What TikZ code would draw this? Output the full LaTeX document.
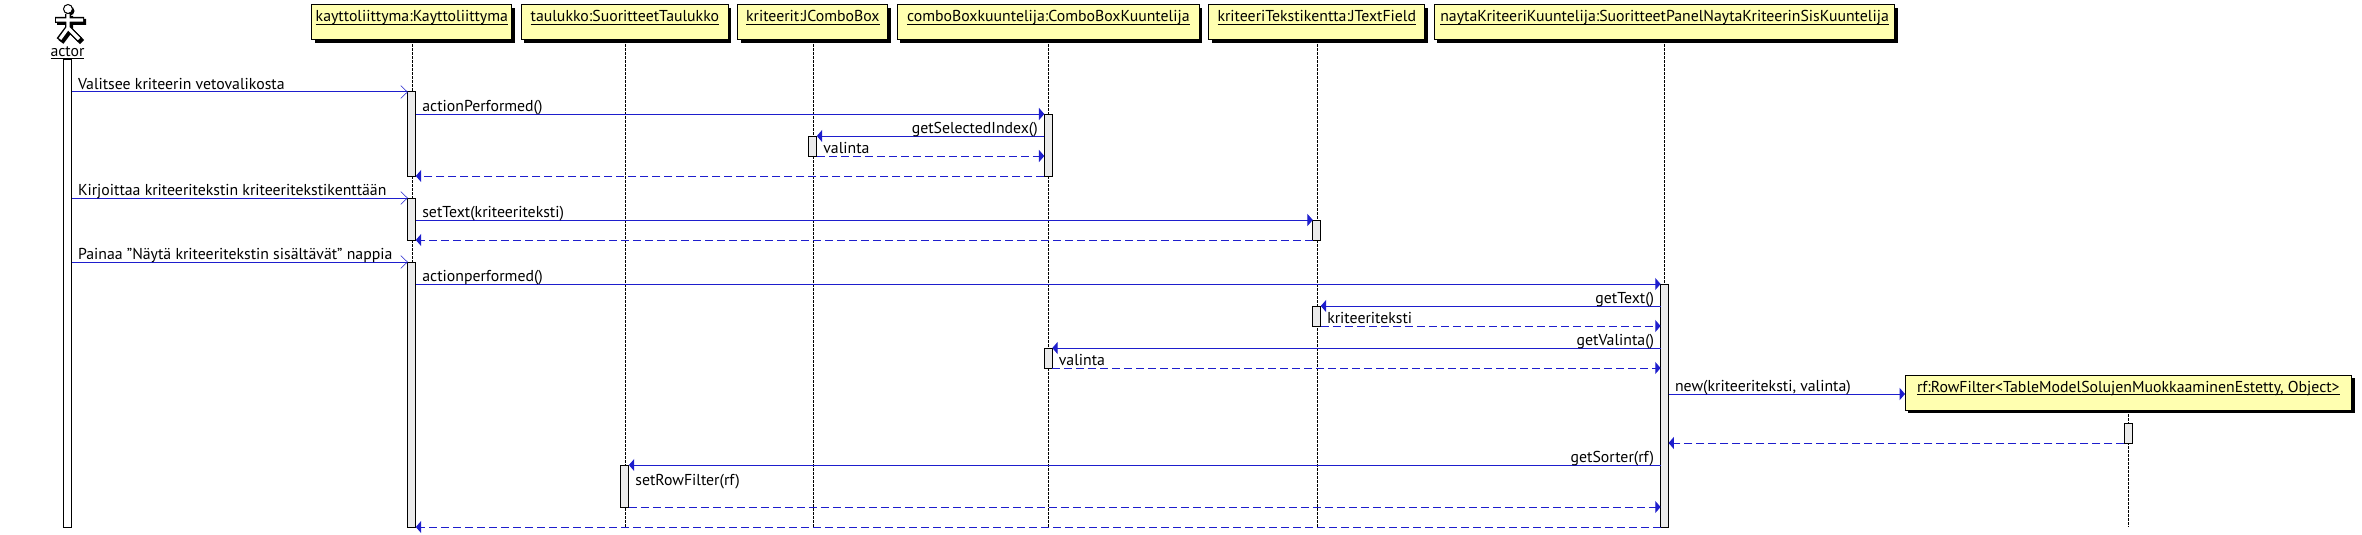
\documentclass[tikz,border=0pt]{standalone}
\usepackage{fontspec}
\setmainfont{PT Sans}
\usepackage{tikz}
\usetikzlibrary{arrows.meta, positioning, shadows, backgrounds}
\definecolor{noteyellow}{RGB}{255, 255, 176}
\definecolor{barfill}{RGB}{235, 235, 235}
\definecolor{msgblue}{RGB}{30, 30, 205}
\newcommand{\ulbl}[1]{\underline{\smash{#1}}}

\begin{document}
\begin{tikzpicture}[
  x=0.75pt, y=-0.75pt,
  node distance = 7.1pt,
  every node/.style = { font=\fontsize{11.85}{13}\selectfont },
  obj/.style = {
    draw=black, line width=0.75pt, fill=noteyellow, outer sep=0pt,
    minimum height=26.25pt, inner ysep=0pt, inner xsep=0pt,
    text height=12.75pt, text depth=13.5pt,
    drop shadow={shadow xshift=2.25pt, shadow yshift=-2.25pt, fill=black, opacity=1}
  },
  bar/.style = {
    draw=black, line width=0.75pt, fill=barfill, anchor=north,
    minimum width=6pt, minimum height=#1*0.75pt, inner sep=0pt, outer sep=0pt
  },
  life/.style = { draw=black, line width=0.4pt, dash pattern=on 2pt off 1pt },
  call/.style = { -{Triangle[length=4pt, width=9pt]}, line width=0.75pt, draw=msgblue },
  ret/.style  = { call, dash pattern=on 6pt off 3pt },
  user/.style = { -{Straight Barb[length=5pt, width=9.5pt, line width=0.4pt]}, line width=0.75pt, draw=msgblue },
  lblr/.style = { anchor=base west, xshift=4.5pt, yshift=2.2pt, inner sep=0pt, pos=0 },
  lbll/.style = { anchor=base east, xshift=-4.5pt, yshift=2.2pt, inner sep=0pt, pos=0 }
]
\useasboundingbox (0,0) rectangle (2362,535);

% objects
\node[obj, minimum width=150.2pt, anchor=north west] (kayt) at (311.7,5) {\ulbl{kayttoliittyma:Kayttoliittyma}};
\node[obj, minimum width=155.2pt, right=of kayt] (taul) {\ulbl{taulukko:SuoritteetTaulukko}};
\node[obj, minimum width=112.5pt, right=of taul] (krit) {\ulbl{kriteerit:JComboBox}};
\node[obj, minimum width=226.5pt, right=of krit] (comb) {\ulbl{comboBoxkuuntelija:ComboBoxKuuntelija}};
\node[obj, minimum width=162pt, right=of comb] (teks) {\ulbl{kriteeriTekstikentta:JTextField}};
\node[obj, minimum width=345.5pt, right=of teks] (nayt) {\ulbl{naytaKriteeriKuuntelija:SuoritteetPanelNaytaKriteerinSisKuuntelija}};
\node[obj, minimum width=335pt, anchor=north west] (rf) at (1905,375) {\ulbl{rf:RowFilter<TableModelSolujenMuokkaaminenEstetty, Object>}};
\coordinate (end) at (0,527);

% actor
\draw[line width=4.5pt, black, shift={(2,2)}] (68,14) -- (68,28) (55,20) -- (84,20) (59,40) -- (68,28) -- (80,40);
\fill[black] (70,11) circle (4.5);
\draw[line width=4.5pt, black] (68,14) -- (68,28) (55,20) -- (84,20) (59,40) -- (68,28) -- (80,40);
\draw[line width=2.4pt, white] (68,14) -- (68,28) (56,20) -- (83,20) (60,39) -- (68,28) -- (79,39);
\draw[line width=0.75pt, fill=white] (68,9) circle (4.5);
\node[anchor=base, inner sep=0pt] (actor) at (67.5,56.5) {\ulbl{actor}};

% lifelines
\begin{scope}[on background layer]
\foreach \obj in {kayt, taul, krit, comb, teks, nayt, rf}
  \draw[life] (\obj.south) -- (\obj.south |- end);
\end{scope}

% activation bars
\node[bar=467, fill=white] (abar) at (67.5,60) {};
\node[bar=84]  (k1) at (kayt.south |- 0,92) {};
\node[bar=62]  (c1) at (comb.south |- 0,114) {};
\node[bar=20]  (j1) at (krit.south |- 0,136) {};
\node[bar=42]  (k2) at (kayt.south |- 0,198) {};
\node[bar=20]  (t1) at (teks.south |- 0,220) {};
\node[bar=265] (k3) at (kayt.south |- 0,262) {};
\node[bar=243] (n1) at (nayt.south |- 0,284) {};
\node[bar=20]  (t2) at (teks.south |- 0,306) {};
\node[bar=20]  (c2) at (comb.south |- 0,348) {};
\node[bar=20]  (r1) at (rf.south |- 0,423) {};
\node[bar=42]  (u1) at (taul.south |- 0,465) {};

% first question
\draw[user] (abar.east |- k1.north) -- (k1.north west) node[lblr] (m1) {Valitsee kriteerin vetovalikosta};
\draw[call] (k1.east |- c1.north) -- (c1.north west) node[lblr] (m2) {actionPerformed()};
\draw[call] (c1.west |- j1.north) -- (j1.north east) node[lbll] (m3) {getSelectedIndex()};
\draw[ret]  (j1.south east) -- (c1.west |- j1.south) node[lblr] (m4) {valinta};
\draw[ret]  (c1.south west) -- (k1.east |- c1.south);

% second question
\draw[user] (abar.east |- k2.north) -- (k2.north west) node[lblr] (m5) {Kirjoittaa kriteeritekstin kriteeritekstikenttään};
\draw[call] (k2.east |- t1.north) -- (t1.north west) node[lblr] (m6) {setText(kriteeriteksti)};
\draw[ret]  (t1.south west) -- (k2.east |- t1.south);

% third question
\draw[user] (abar.east |- k3.north) -- (k3.north west) node[lblr] (m7) {Painaa "Näytä kriteeritekstin sisältävät" nappia};
\draw[call] (k3.east |- n1.north) -- (n1.north west) node[lblr] (m8) {actionperformed()};
\draw[call] (n1.west |- t2.north) -- (t2.north east) node[lbll] (m9) {getText()};
\draw[ret]  (t2.south east) -- (n1.west |- t2.south) node[lblr] (m10) {kriteeriteksti};
\draw[call] (n1.west |- c2.north) -- (c2.north east) node[lbll] (m11) {getValinta()};
\draw[ret]  (c2.south east) -- (n1.west |- c2.south) node[lblr] (m12) {valinta};
\draw[call] (n1.east |- 0,394) -- (rf.west |- 0,394) node[lblr] (m13) {new(kriteeriteksti, valinta)};
\draw[ret]  (r1.south west) -- (n1.east |- r1.south);
\draw[call] (n1.west |- u1.north) -- (u1.north east) node[lbll] (m14) {getSorter(rf)};
\draw[ret]  (u1.south east) -- (n1.west |- u1.south) node[lblr, yshift=14pt] (m15) {setRowFilter(rf)};
\draw[ret]  (n1.south west) -- (k3.east |- n1.south);

\end{tikzpicture}
\end{document}
